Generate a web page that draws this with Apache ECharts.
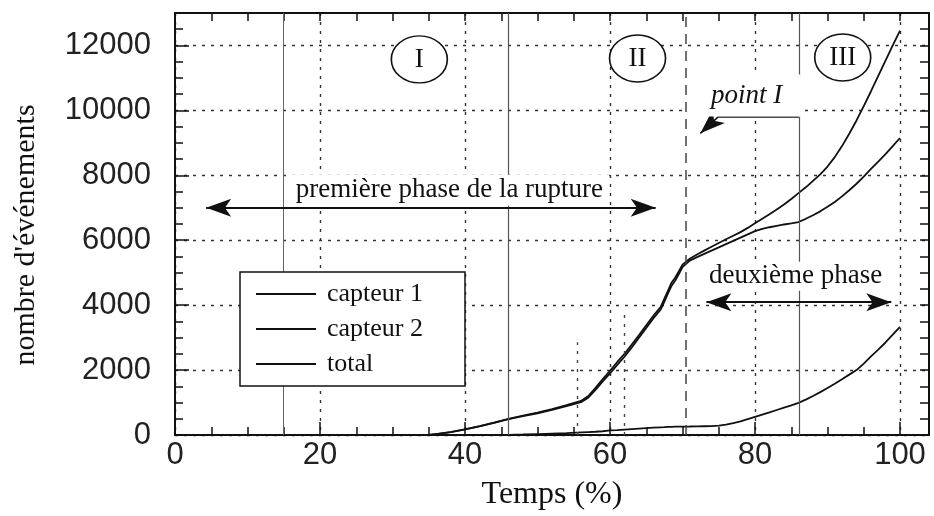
<!DOCTYPE html>
<html><head><meta charset="utf-8">
<script src="https://cdn.jsdelivr.net/npm/echarts@6/dist/echarts.min.js"></script>
<style>html,body{margin:0;padding:0;background:#fff}#c{width:934px;height:516px}</style>
</head><body><div id="c"></div>
<script>
// ---- data ----
const xValues = [0, 30, 35, 36, 38, 40, 42, 44, 46, 48, 50, 52, 54, 56, 57, 58, 59, 60, 61, 62, 63, 64, 65, 66, 67, 67.5, 68, 68.5, 69, 69.5, 70, 71, 72, 73, 74, 75, 76, 77, 78, 79, 80, 81, 82, 83, 84, 85, 86, 87, 88, 89, 90, 91, 92, 93, 94, 95, 96, 97, 98, 99, 100];
const totalValues = [0, 0, 0, 30, 90, 170, 270, 380, 500, 600, 690, 800, 920, 1050, 1200, 1450, 1720, 1980, 2250, 2500, 2790, 3080, 3380, 3680, 3950, 4200, 4450, 4700, 4850, 5050, 5250, 5430, 5560, 5680, 5800, 5915, 6030, 6140, 6250, 6380, 6520, 6660, 6800, 6950, 7100, 7270, 7450, 7630, 7830, 8030, 8270, 8560, 8900, 9280, 9690, 10130, 10590, 11060, 11530, 12000, 12460];
const capteur1Values = [0, 0, 0, 30, 90, 170, 265, 370, 490, 585, 670, 775, 890, 1010, 1150, 1390, 1650, 1900, 2160, 2410, 2700, 3000, 3300, 3600, 3870, 4110, 4360, 4600, 4760, 4960, 5170, 5370, 5480, 5580, 5680, 5780, 5880, 5980, 6080, 6180, 6280, 6350, 6400, 6445, 6485, 6520, 6560, 6660, 6770, 6890, 7030, 7180, 7350, 7540, 7740, 7960, 8200, 8420, 8650, 8900, 9150];
const capteur2Values = [0, 0, 0, 0, 0, 0, 0, 0, 5, 15, 30, 45, 60, 80, 90, 100, 115, 140, 150, 165, 180, 195, 210, 225, 235, 240, 250, 252, 255, 258, 260, 262, 265, 270, 275, 290, 320, 365, 420, 490, 560, 630, 700, 770, 840, 910, 990, 1090, 1200, 1320, 1450, 1580, 1720, 1860, 2000, 2200, 2420, 2630, 2850, 3090, 3330];
const seriesNames = ['capteur 1', 'capteur 2', 'total'];
const xTickLabels = ['0', '20', '40', '60', '80', '100'];
const yTickLabels = ['0', '2000', '4000', '6000', '8000', '10000', '12000'];
const xMajorTicks = [0, 20, 40, 60, 80, 100];
const xMinorTicks = [5, 10, 15, 25, 30, 35, 45, 50, 55, 65, 70, 75, 85, 90, 95];
const xTopTicks = [5, 10, 15, 20, 25, 30, 35, 40, 45, 50, 55, 60, 65, 70, 75, 80, 85, 90, 95, 100];
const yMajorTicks = [0, 2000, 4000, 6000, 8000, 10000, 12000];
const yMinorTicks = [500, 1000, 1500, 2500, 3000, 3500, 4500, 5000, 5500, 6500, 7000, 7500, 8500, 9000, 9500, 10500, 11000, 11500, 12500];
const yRightTicks = [500, 1000, 1500, 2000, 2500, 3000, 3500, 4000, 4500, 5000, 5500, 6000, 6500, 7000, 7500, 8000, 8500, 9000, 9500, 10000, 10500, 11000, 11500, 12000, 12500];
const phaseLabels = ['I', 'II', 'III'];
const phaseX = [33.7, 63.8, 92.1];
const phaseY = [11570, 11600, 11630];

// ---- chart ----
const X_MIN = 0, X_MAX = 104, Y_MIN = 0, Y_MAX = 13000;
const INK = '#111';
const serif = 'Liberation Serif';
const sans = 'Liberation Sans';

function pairs(ys) { return xValues.map((x, i) => [x, ys[i]]); }

const gridDash = { type: [3, 6], color: '#333', width: 1.4 };

const chart = echarts.init(document.getElementById('c'), null, { renderer: 'canvas' });

const annotLines = [
  [{ coord: [14.9, 0], lineStyle: { color: '#666', width: 1, type: 'solid' } }, { coord: [14.9, 13000] }],
  [{ coord: [46, 0], lineStyle: { color: '#555', width: 1.2, type: 'solid' } }, { coord: [46, 13000] }],
  [{ coord: [86.05, 0], lineStyle: { color: '#555', width: 1.2, type: 'solid' } }, { coord: [86.05, 9815] }],
  [{ coord: [86.05, 11015], lineStyle: { color: '#555', width: 1.2, type: 'solid' } }, { coord: [86.05, 13000] }],
  [{ coord: [70.4, 0], lineStyle: { color: '#444', width: 1.5, type: [10, 7] } }, { coord: [70.4, 13000] }],
  [{ coord: [55.5, 0], lineStyle: { color: '#444', width: 1.4, type: [3, 6] } }, { coord: [55.5, 2860] }],
  [{ coord: [61.9, 0], lineStyle: { color: '#444', width: 1.4, type: [3, 6] } }, { coord: [61.9, 3850] }],
  [{ coord: [4.3, 7000], symbol: 'arrow', lineStyle: { color: INK, width: 2, type: 'solid' } }, { coord: [66.3, 7000], symbol: 'arrow' }],
  [{ coord: [73.3, 4090], symbol: 'arrow', lineStyle: { color: INK, width: 2, type: 'solid' } }, { coord: [98.8, 4090], symbol: 'arrow' }],
  [{ coord: [75.0, 9815], lineStyle: { color: INK, width: 1.5, type: 'solid' } }, { coord: [86.05, 9815] }],
  [{ coord: [75.0, 9815], lineStyle: { color: INK, width: 1.5, type: 'solid' } }, { coord: [72.46, 9292], symbol: 'arrow' }]
];

const textBox = (txt, coord, extra) => ({
  coord: coord, value: txt,
  symbol: 'rect', symbolSize: 1,
  itemStyle: { color: 'rgba(0,0,0,0)' },
  label: Object.assign({
    show: true, position: 'inside', formatter: txt,
    fontFamily: serif, fontSize: 27, color: INK,
    backgroundColor: '#fff', padding: [3, 6, 1, 6]
  }, extra || {})
});

const annotPoints = phaseLabels.map((t, i) => ({
  coord: [phaseX[i], phaseY[i]], value: t,
  symbol: 'circle', symbolSize: [56, 47],
  itemStyle: { color: '#fff', borderColor: INK, borderWidth: 1.5 },
  label: { show: true, position: 'inside', formatter: t, fontFamily: serif, fontSize: 27, color: INK }
})).concat([
  textBox('première phase de la rupture', [37.85, 7538]),
  textBox('deuxième phase', [85.6, 4892], { padding: [1, 3, 1, 3] }),
  textBox('point I', [78.5, 10460], { fontStyle: 'italic', padding: [8, 18, 7, 23] })
]);

const lineSeries = (name, ys) => ({
  name: name, type: 'line', data: pairs(ys),
  xAxisIndex: 0, yAxisIndex: 0,
  symbol: 'none', showSymbol: false, smooth: false,
  lineStyle: { color: INK, width: 1.8 }, itemStyle: { color: INK },
  z: 2, animation: false
});

const option = {
  animation: false,
  backgroundColor: '#fff',
  grid: { left: 175, right: 5, top: 13, bottom: 81, containLabel: false },
  legend: {
    data: seriesNames, orient: 'vertical', left: 240, top: 272,
    icon: 'rect', itemWidth: 60, itemHeight: 2,
    backgroundColor: '#fff', borderColor: INK, borderWidth: 1.5, borderRadius: 0,
    padding: [9, 42, 9, 16], itemGap: 9,
    textStyle: { fontFamily: serif, fontSize: 26, color: INK, padding: [0, 0, 0, 6] },
    selectedMode: false, z: 6
  },
  xAxis: [
    {
      type: 'value', min: X_MIN, max: X_MAX, interval: 20, position: 'bottom',
      axisLine: { show: true, onZero: false, lineStyle: { color: INK, width: 2 } },
      axisTick: { show: true, inside: true, length: 13, customValues: xMajorTicks, lineStyle: { color: INK, width: 1.5 } },
      axisLabel: { show: true, margin: 5, fontFamily: sans, fontSize: 31, color: '#222',
        formatter: v => xTickLabels.indexOf(String(v)) >= 0 ? String(v) : '' },
      splitLine: { show: true, lineStyle: gridDash },
      name: 'Temps (%)', nameLocation: 'middle', nameGap: 44,
      nameTextStyle: { fontFamily: serif, fontSize: 32, color: INK }
    },
    {
      type: 'value', min: X_MIN, max: X_MAX, interval: 20, position: 'bottom',
      axisLine: { show: false, onZero: false },
      axisTick: { show: true, inside: true, length: 8, customValues: xMinorTicks, lineStyle: { color: INK, width: 1.5 } },
      axisLabel: { show: false }, splitLine: { show: false }
    },
    {
      type: 'value', min: X_MIN, max: X_MAX, interval: 20, position: 'top',
      axisLine: { show: true, onZero: false, lineStyle: { color: INK, width: 2 } },
      axisTick: { show: true, inside: true, length: 8, customValues: xTopTicks, lineStyle: { color: INK, width: 1.5 } },
      axisLabel: { show: false }, splitLine: { show: false }
    }
  ],
  yAxis: [
    {
      type: 'value', min: Y_MIN, max: Y_MAX, interval: 2000, position: 'left',
      axisLine: { show: true, onZero: false, lineStyle: { color: INK, width: 2 } },
      axisTick: { show: true, inside: true, length: 14, customValues: yMajorTicks, lineStyle: { color: INK, width: 1.5 } },
      axisLabel: { show: true, margin: 24, fontFamily: sans, fontSize: 31, color: '#222',
        formatter: v => yTickLabels.indexOf(String(v)) >= 0 ? String(v) : '' },
      splitLine: { show: true, lineStyle: gridDash },
      name: "nombre d'événements", nameLocation: 'middle', nameGap: 134, nameRotate: 90,
      nameTextStyle: { fontFamily: serif, fontSize: 30, color: INK, padding: [0, 22, 0, 0] }
    },
    {
      type: 'value', min: Y_MIN, max: Y_MAX, interval: 2000, position: 'left',
      axisLine: { show: false, onZero: false },
      axisTick: { show: true, inside: true, length: 8, customValues: yMinorTicks, lineStyle: { color: INK, width: 1.5 } },
      axisLabel: { show: false }, splitLine: { show: false }
    },
    {
      type: 'value', min: Y_MIN, max: Y_MAX, interval: 2000, position: 'right',
      axisLine: { show: true, onZero: false, lineStyle: { color: INK, width: 2 } },
      axisTick: { show: true, inside: true, length: 9, customValues: yRightTicks, lineStyle: { color: INK, width: 1.5 } },
      axisLabel: { show: false }, splitLine: { show: false }
    }
  ],
  series: [
    lineSeries(seriesNames[0], capteur1Values),
    lineSeries(seriesNames[1], capteur2Values),
    lineSeries(seriesNames[2], totalValues),
    {
      name: '_annot', type: 'line', data: [], xAxisIndex: 0, yAxisIndex: 0,
      silent: true, animation: false,
      markLine: {
        silent: true, animation: false, z: 3,
        symbol: ['none', 'none'], symbolSize: [13.5, 25],
        label: { show: false },
        emphasis: { disabled: true },
        data: annotLines
      },
      markPoint: {
        silent: true, animation: false, z: 7,
        data: annotPoints
      }
    }
  ]
};
chart.setOption(option);
</script>
</body></html>
